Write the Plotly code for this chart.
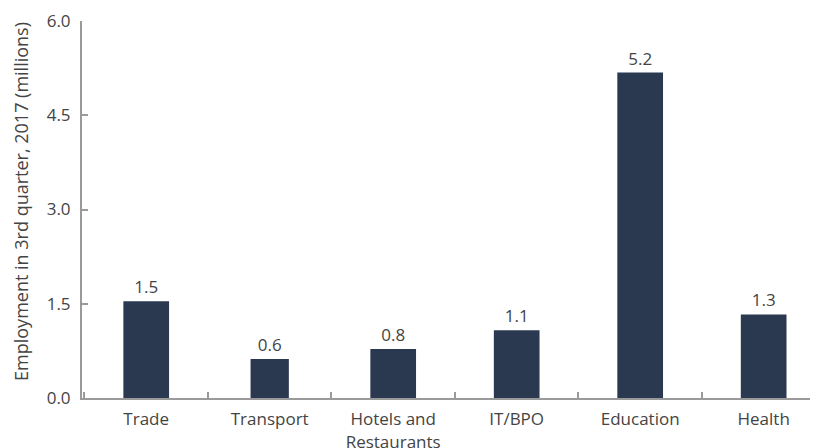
import plotly.graph_objects as go

# Employment by sector, Q3 2017 (millions)
sectors = ["Trade", "Transport", "Hotels and<br>Restaurants", "IT/BPO", "Education", "Health"]
employment = [1.54, 0.62, 0.78, 1.08, 5.18, 1.33]
y_ticks = [0, 1.5, 3.0, 4.5, 6.0]
y_title = "Employment in 3rd quarter, 2017 (millions)"

BAR = "#2a3850"
AXIS = "#9a9a9a"
TXT = "#444444"
FONT = "Open Sans"

fig = go.Figure()
fig.add_trace(go.Bar(
    x=sectors,
    y=employment,
    width=[0.37, 0.31, 0.37, 0.37, 0.37, 0.37],
    marker=dict(color=BAR, line=dict(width=0)),
    texttemplate="%{y:.1f}",
    textposition="outside",
    textfont=dict(family=FONT, size=17, color=TXT),
    cliponaxis=False,
    hoverinfo="skip",
))

# page body has an 8px margin, so margins are shifted to compensate
fig.update_layout(
    width=818, height=448,
    margin=dict(l=74, r=8, t=13, b=58),
    plot_bgcolor="white", paper_bgcolor="white",
    font=dict(family=FONT, size=17, color=TXT),
    showlegend=False,
)
fig.update_xaxes(
    range=[-0.52, 5.44],
    automargin=False,
    showline=True, linecolor=AXIS, linewidth=2,
    ticks="inside", tickson="boundaries", ticklen=6, tickcolor=AXIS, tickwidth=2,
    showgrid=False, zeroline=False,
    tickfont=dict(family=FONT, size=17, color=TXT),
    ticklabelstandoff=5,
)
fig.update_yaxes(
    range=[0, 6.0],
    automargin=False,
    tickvals=y_ticks,
    tickformat=".1f",
    showline=True, linecolor=AXIS, linewidth=2,
    ticks="inside", ticklen=6, tickcolor=AXIS, tickwidth=2,
    showgrid=False, zeroline=False,
    tickfont=dict(family=FONT, size=17, color=TXT),
    ticklabelstandoff=6,
)

# rotated y title placed by hand so it doesn't push the margin
fig.add_annotation(
    text=y_title, textangle=-90,
    xref="paper", yref="paper", x=-0.083, y=0.5225,
    xanchor="center", yanchor="middle", showarrow=False,
    font=dict(family=FONT, size=18, color=TXT),
)

fig.write_html("out.html")
